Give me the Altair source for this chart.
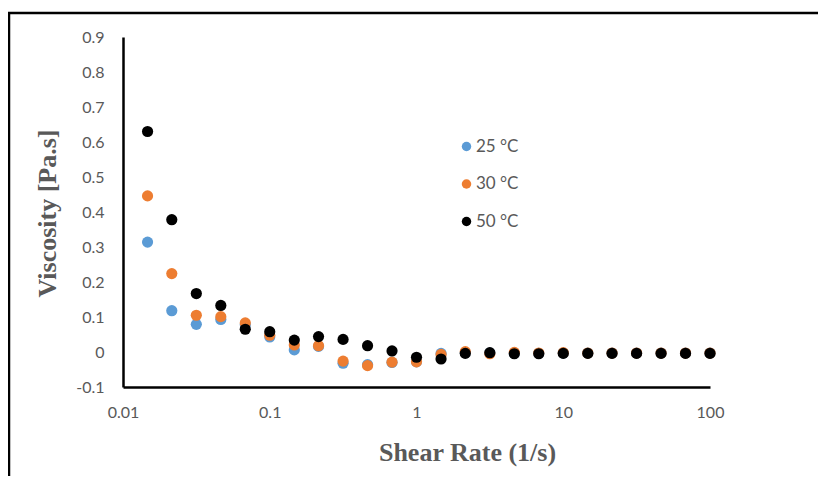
import altair as alt
import pandas as pd

shear_rate = [0.0147, 0.0215, 0.0316, 0.0464, 0.0681, 0.1, 0.147, 0.215, 0.316, 0.464,
              0.681, 1.0, 1.47, 2.15, 3.16, 4.64, 6.81, 10.0, 14.7, 21.5, 31.6, 46.4, 68.1, 100.0]
visc_25 = [0.314, 0.118, 0.079, 0.093, 0.078, 0.043, 0.006, 0.016, -0.032, -0.036,
           -0.030, -0.028, -0.004, -0.002, -0.003, -0.004, -0.004, -0.003, -0.003, -0.003,
           -0.003, -0.003, -0.003, -0.003]
visc_30 = [0.446, 0.224, 0.105, 0.101, 0.083, 0.048, 0.020, 0.018, -0.026, -0.039,
           -0.029, -0.028, -0.007, 0.001, -0.005, -0.001, -0.003, -0.002, -0.003, -0.003,
           -0.003, -0.003, -0.003, -0.003]
visc_50 = [0.630, 0.378, 0.167, 0.133, 0.065, 0.058, 0.034, 0.044, 0.036, 0.018,
           0.003, -0.015, -0.020, -0.004, -0.002, -0.005, -0.005, -0.004, -0.004, -0.004,
           -0.004, -0.004, -0.004, -0.004]
series_names = ["25 °C", "30 °C", "50 °C"]
series_colors = ["#5B9BD5", "#ED7D31", "#000000"]
x_ticks = [0.01, 0.1, 1, 10, 100]
y_ticks = [-0.1, 0, 0.1, 0.2, 0.3, 0.4, 0.5, 0.6, 0.7, 0.8, 0.9]

rows = []
for name, vals in zip(series_names, [visc_25, visc_30, visc_50]):
    for x, y in zip(shear_rate, vals):
        rows.append({"shear": x, "visc": y, "series": name, "order": len(rows)})
df = pd.DataFrame(rows)

GRAY = "#595959"

points = alt.Chart(df).mark_circle(size=125, opacity=1).encode(
    x=alt.X("shear:Q",
            scale=alt.Scale(type="log", domain=[0.01, 100]),
            axis=alt.Axis(values=x_ticks, format="~g", title="Shear Rate (1/s)",
                          grid=False, ticks=False, tickSize=0, labelPadding=17,
                          labelFlush=False,
                          domainColor="black", domainWidth=2.5,
                          labelColor=GRAY, labelFont="Lato", labelFontSize=16,
                          titleFont="Liberation Serif", titleFontSize=26,
                          titleFontWeight="bold", titleColor=GRAY,
                          titleX=344, titleY=65, titleBaseline="middle",
                          titleAlign="center")),
    y=alt.Y("visc:Q",
            scale=alt.Scale(domain=[-0.1, 0.9], nice=False, zero=False),
            axis=alt.Axis(values=y_ticks, title="Viscosity [Pa.s]",
                          labelExpr="datum.value < -0.0001 ? '-' + format(abs(datum.value), '.1f') : (abs(datum.value) < 0.0001 ? '0' : format(datum.value, '.1f'))",
                          grid=False, ticks=False, tickSize=0, labelPadding=19,
                          labelFlush=False,
                          domainColor="black", domainWidth=2.5,
                          labelColor=GRAY, labelFont="Lato", labelFontSize=16,
                          titleFont="Liberation Serif", titleFontSize=26,
                          titleFontWeight="bold", titleColor=GRAY,
                          titleX=-76, titleY=176, titleBaseline="middle",
                          titleAlign="center")),
    color=alt.Color("series:N",
                    scale=alt.Scale(domain=series_names, range=series_colors),
                    legend=alt.Legend(title=None, orient="none", legendX=335, legendY=101,
                                      symbolType="circle", symbolSize=90, symbolStrokeWidth=0,
                                      labelFont="Lato", labelFontSize=17, labelColor=GRAY,
                                      labelOffset=1, rowPadding=19.5, padding=0)),
    order=alt.Order("order:Q"),
)

frame = alt.Chart(alt.Data(values=[{}])).mark_rect(
    filled=False, stroke="black", strokeWidth=2.5, clip=False
).encode(
    x=alt.value(-114), x2=alt.value(760),
    y=alt.value(-24), y2=alt.value(500),
)

chart = alt.layer(frame, points).properties(
    width=587, height=350,
    padding={"left": 115, "top": 29, "right": 108, "bottom": 89},
    autosize=alt.AutoSizeParams(type="none"),
).configure(background="white").configure_view(stroke=None)

chart.save("out.html", embed_options={"renderer": "svg", "actions": False})
